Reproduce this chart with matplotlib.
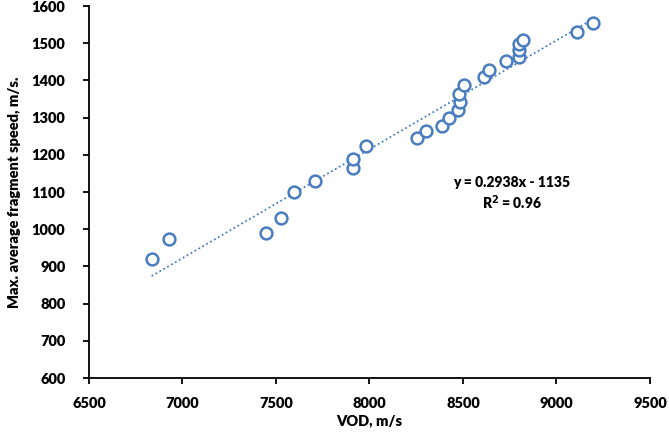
import matplotlib.pyplot as plt
import numpy as np

# VOD (m/s) and max. average fragment speed (m/s)
vod = [6835, 6928, 7448, 7527, 7598, 7710, 7910, 7910, 7980,
       8252, 8302, 8388, 8427, 8471, 8484, 8479, 8504, 8612, 8639,
       8730, 8801, 8801, 8801, 8819, 9111, 9197]
speed = [919, 974, 989, 1029, 1099, 1130, 1164, 1190, 1224,
         1244, 1265, 1278, 1300, 1320, 1343, 1363, 1387, 1408, 1428,
         1453, 1464, 1482, 1498, 1509, 1529, 1554]

x_ticks = [6500, 7000, 7500, 8000, 8500, 9000, 9500]
y_ticks = [600, 700, 800, 900, 1000, 1100, 1200, 1300, 1400, 1500, 1600]

blue = '#4A7DC0'
plt.rcParams['font.family'] = ['Lato', 'DejaVu Sans']
plt.rcParams['font.weight'] = 'heavy'

fig = plt.figure(figsize=(6.69, 4.34), dpi=100)
ax = fig.add_axes([0.133, 0.129, 0.8386, 0.857])

# linear trend line
slope, intercept = np.polyfit(vod, speed, 1)
xs = np.array([min(vod), max(vod)])
ax.plot(xs, slope * xs + intercept, color=blue, linestyle=(0, (1, 1.5)), linewidth=1.3)

ax.plot(vod, speed, linestyle='none', marker='o', markersize=8.5,
        markerfacecolor='white', markeredgecolor=blue, markeredgewidth=1.8)

ax.set_xlim(6500, 9500)
ax.set_ylim(600, 1600)
ax.set_xticks(x_ticks)
ax.set_yticks(y_ticks)
ax.spines['top'].set_visible(False)
ax.spines['right'].set_visible(False)
for s in ['left', 'bottom']:
    ax.spines[s].set_linewidth(1.3)
ax.tick_params(axis='x', direction='out', length=4, width=1.3, pad=10, labelsize=10.5)
ax.tick_params(axis='y', direction='out', length=4, width=1.3, pad=13, labelsize=10.5)

ax.set_xlabel('VOD, m/s', fontsize=10.5, fontweight='heavy', labelpad=3)
ax.set_ylabel('Max. average fragment speed, m/s.', fontsize=10.5, fontweight='heavy', labelpad=8)

ax.text(8760, 1095, 'y = 0.2938x - 1135\nR$^2$ = 0.96', ha='center', va='center',
        fontsize=10, fontweight='heavy', linespacing=1.3)

fig.savefig('out.png', dpi=100)
